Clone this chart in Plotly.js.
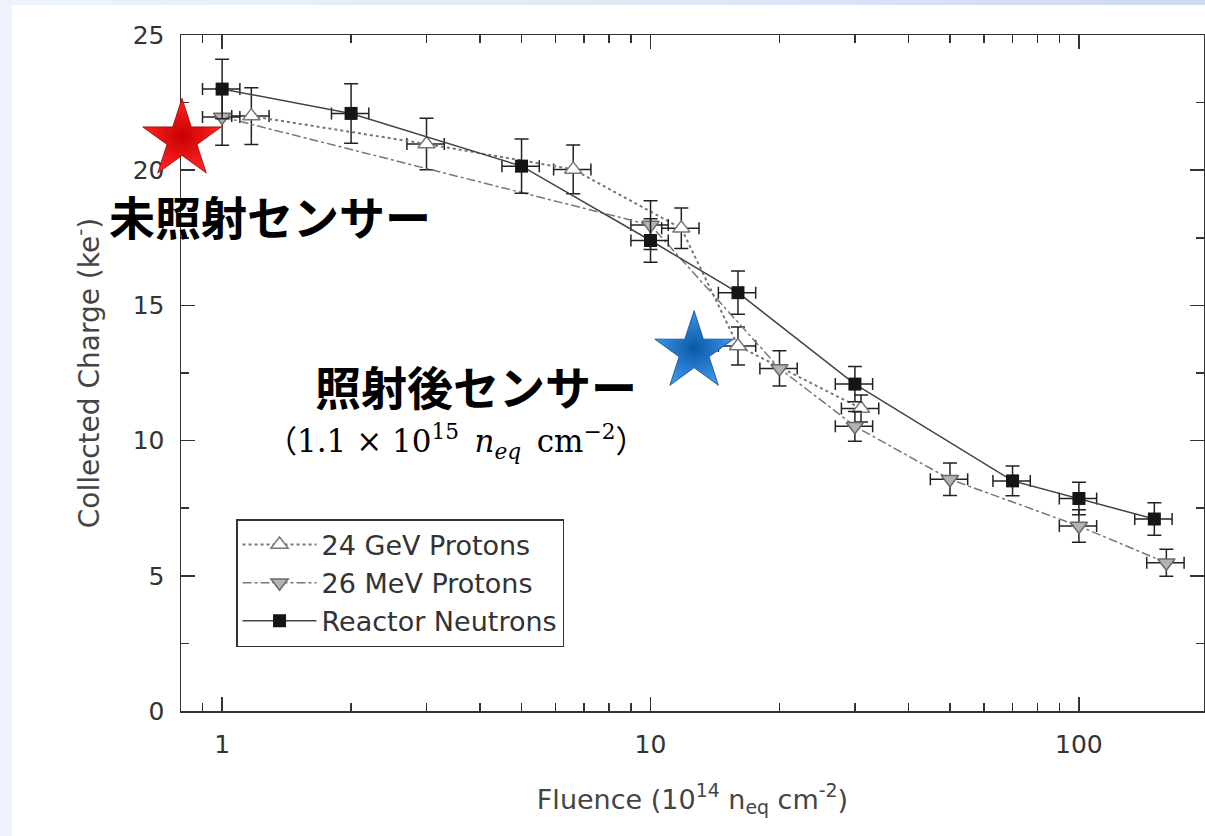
<!DOCTYPE html>
<html>
<head>
<meta charset="utf-8">
<script src="https://cdn.plot.ly/plotly-3.0.1.min.js"></script>
<style>
  html, body { margin:0; padding:0; width:1205px; height:836px; overflow:hidden;
    background: linear-gradient(to right, #eef3fb 0%, #dde7f6 60%, #cbdaf1 100%); }
  #chart { position:absolute; left:12px; top:5px; width:1193px; height:831px; background:#fff; }
</style>
</head>
<body>
<div id="chart"></div>
<script>
// ---- data ----
const seriesNames = ["24 GeV Protons", "26 MeV Protons", "Reactor Neutrons"];

const x24GeV = [1.17, 3, 6.6, 11.8, 16, 31];
const y24GeV = [22.0, 20.97, 20.03, 17.85, 13.5, 11.19];
const err24GeV = [1.05, 0.95, 0.9, 0.75, 0.7, 0.5];

const x26MeV = [1, 10, 20, 30, 50, 100, 160];
const y26MeV = [21.97, 17.97, 12.67, 10.53, 8.57, 6.84, 5.48];
const err26MeV = [1.05, 0.9, 0.65, 0.55, 0.6, 0.6, 0.5];

const xNeutron = [1, 2, 5, 10, 16, 30, 70, 100, 150];
const yNeutron = [23.0, 22.1, 20.15, 17.4, 15.47, 12.09, 8.51, 7.86, 7.1];
const errNeutron = [1.1, 1.1, 1.0, 0.8, 0.8, 0.65, 0.55, 0.6, 0.6];

const xErrPercent = 10;

// star callouts (unirradiated / irradiated sensor)
const starX = [0.806, 12.64];
const starY = [21.13, 13.28];

const xTickVals = [1, 10, 100];
const yTickVals = [0, 5, 10, 15, 20, 25];

const labelUnirr = "未照射センサー";
const labelIrr = "照射後センサー";
const cjkParen = s => '<span style="font-family:Noto Sans CJK JP">' + s + '</span>';
const labelFluence = cjkParen("（") + "1.1 × 10<sup>15</sup>\u2002<i>n</i><sub><i>eq</i></sub>\u2002cm<sup>−2</sup>" + cjkParen("）");

// ---- styling ----
const errStyleY = arr => ({type:'data', array:arr, visible:true, color:'#222', thickness:1.5, width:7});
const errStyleX = {type:'percent', value:xErrPercent, visible:true, color:'#222', thickness:1.5, width:6};

const traces = [
  {
    x: x24GeV, y: y24GeV, name: seriesNames[0], type:'scatter', mode:'lines+markers',
    line:{color:'#777', width:2, dash:'dot'},
    marker:{symbol:'triangle-up', size:15, color:'#fff', line:{color:'#777', width:1.5}},
    error_y: errStyleY(err24GeV), error_x: errStyleX
  },
  {
    x: x26MeV, y: y26MeV, name: seriesNames[1], type:'scatter', mode:'lines+markers',
    line:{color:'#777', width:1.5, dash:'dashdot'},
    marker:{symbol:'triangle-down', size:15, color:'#b3b3b3', line:{color:'#6a6a6a', width:1.5}},
    error_y: errStyleY(err26MeV), error_x: errStyleX
  },
  {
    x: xNeutron, y: yNeutron, name: seriesNames[2], type:'scatter', mode:'lines+markers',
    line:{color:'#444', width:1.5},
    marker:{symbol:'square', size:13, color:'#151515', line:{color:'#151515', width:0}},
    error_y: errStyleY(errNeutron), error_x: errStyleX
  },
  {
    x: [starX[0]], y: [starY[0]], type:'scatter', mode:'markers', showlegend:false, hoverinfo:'skip',
    cliponaxis:false,
    marker:{symbol:'star', size:59, color:'#ff2424', gradient:{type:'radial', color:'#c80000'},
            line:{color:'#a00000', width:0.8}}
  },
  {
    x: [starX[1]], y: [starY[1]], type:'scatter', mode:'markers', showlegend:false, hoverinfo:'skip',
    cliponaxis:false,
    marker:{symbol:'star', size:59, color:'#3d95e6', gradient:{type:'radial', color:'#0a58a8'},
            line:{color:'#084a8c', width:0.8}}
  }
];

const axisFont = {family:'DejaVu Sans, Liberation Sans, sans-serif', size:25, color:'#333'};
const titleFont = {family:'DejaVu Sans, Liberation Sans, sans-serif', size:27, color:'#444'};

const layout = {
  width:1193, height:831,
  margin:{l:169, r:1, t:30, b:125},
  paper_bgcolor:'#fff', plot_bgcolor:'#fff',
  showlegend:true,
  xaxis:{
    type:'log', range:[-0.096, 2.292], tickvals:xTickVals, ticktext:xTickVals.map(String),
    ticks:'inside', ticklen:14, tickwidth:1.5, tickcolor:'#333',
    minor:{ticks:'inside', ticklen:8, tickwidth:1.5, tickcolor:'#333', dtick:'D1', showgrid:false},
    showline:true, linecolor:'#333', linewidth:1.5, mirror:'ticks',
    showgrid:false, zeroline:false, layer:'below traces',
    tickfont:axisFont, ticklabelstandoff:10,
    title:{text:'Fluence (10<sup>14</sup> n<sub>eq</sub> cm<sup>-2</sup>)', font:titleFont, standoff:32}
  },
  yaxis:{
    range:[0, 25], tickvals:yTickVals,
    ticks:'inside', ticklen:14, tickwidth:1.5, tickcolor:'#333',
    minor:{ticks:'inside', ticklen:8, tickwidth:1.5, tickcolor:'#333', dtick:2.5, showgrid:false},
    showline:true, linecolor:'#333', linewidth:1.5, mirror:'ticks',
    showgrid:false, zeroline:false, layer:'below traces',
    tickfont:axisFont, ticklabelstandoff:10,
    title:{text:'Collected Charge (ke<sup>-</sup>)', font:{family:titleFont.family, size:28, color:'#444'}, standoff:25}
  },
  legend:{
    x:0.0538, y:0.284, xanchor:'left', yanchor:'top',
    bgcolor:'#fff', bordercolor:'#333', borderwidth:1.5,
    font:{family:'DejaVu Sans, Liberation Sans, sans-serif', size:27, color:'#333'},
    itemwidth:74, tracegroupgap:0
  },
  annotations:[
    {text:'<b>'+labelUnirr+'</b>', xref:'paper', yref:'paper', x:0.087, y:0.7337,
     xanchor:'center', yanchor:'middle', showarrow:false,
     font:{family:'Noto Sans CJK JP', size:46, color:'#000'}},
    {text:'<b>'+labelIrr+'</b>', xref:'paper', yref:'paper', x:0.2884, y:0.4822,
     xanchor:'center', yanchor:'middle', showarrow:false,
     font:{family:'Noto Sans CJK JP', size:46, color:'#000'}},
    {text:labelFluence, xref:'paper', yref:'paper', x:0.2688, y:0.4009,
     xanchor:'center', yanchor:'middle', showarrow:false,
     font:{family:'DejaVu Serif, Liberation Serif, serif', size:31, color:'#000'}}
  ]
};

Plotly.newPlot('chart', traces, layout, {displayModeBar:false, staticPlot:true});
</script>
</body>
</html>
